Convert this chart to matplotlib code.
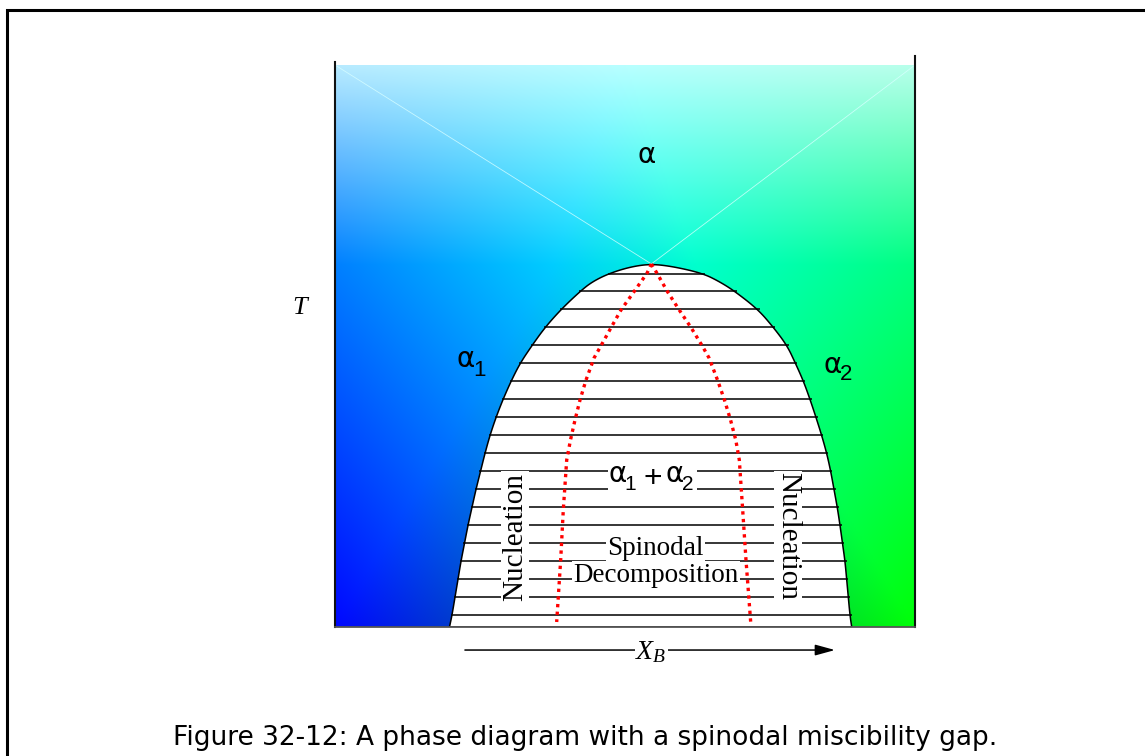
import numpy as np
import matplotlib
matplotlib.use("Agg")
import matplotlib.pyplot as plt
from matplotlib.patches import Polygon, Rectangle
from matplotlib.lines import Line2D
from matplotlib.transforms import offset_copy

plt.rcParams['mathtext.fontset'] = 'custom'
plt.rcParams['mathtext.rm'] = 'Liberation Serif'
plt.rcParams['mathtext.it'] = 'Liberation Serif:italic'

# ---- data (composition X_B in 0..1, temperature T in 0..1) ----
edge_T = [0.000, 0.021, 0.053, 0.085, 0.117, 0.149, 0.181, 0.213, 0.245, 0.277,
          0.309, 0.341, 0.373, 0.405, 0.437, 0.469, 0.501, 0.533, 0.565, 0.597,
          0.614, 0.629, 0.641, 0.646]
edge_left = [0.1974, 0.2017, 0.2069, 0.2121, 0.2172, 0.2233, 0.2293, 0.2362, 0.2431, 0.2509,
             0.2586, 0.2672, 0.2776, 0.2897, 0.3034, 0.3190, 0.3397, 0.3621, 0.3897, 0.4224,
             0.4431, 0.4724, 0.5100, 0.5455]
edge_right = [0.8909, 0.8879, 0.8850, 0.8822, 0.8793, 0.8750, 0.8707, 0.8660, 0.8603, 0.8547,
              0.8478, 0.8391, 0.8293, 0.8190, 0.8078, 0.7940, 0.7793, 0.7560, 0.7293, 0.6897,
              0.6638, 0.6345, 0.5850, 0.5455]

tie_T = [0.021, 0.053, 0.085, 0.117, 0.149, 0.181, 0.213, 0.245, 0.277, 0.309,
         0.341, 0.373, 0.405, 0.437, 0.469, 0.501, 0.533, 0.565, 0.597, 0.629]

spin_T = [0.6459, 0.6294, 0.5966, 0.5641, 0.5326, 0.5005, 0.4786, 0.4395, 0.4039,
          0.3683, 0.3327, 0.2972, 0.2082, 0.1192, 0.0089]
spin_left = [0.5455, 0.5379, 0.5155, 0.4931, 0.4759, 0.4586, 0.4466, 0.4328, 0.4224,
             0.4138, 0.4060, 0.3995, 0.3936, 0.3891, 0.3822]
spin_right = [0.5455, 0.5552, 0.5733, 0.5935, 0.6140, 0.6330, 0.6450, 0.6595, 0.6715,
              0.6820, 0.6910, 0.6971, 0.7029, 0.7086, 0.7167]

caption = "Figure 32-12: A phase diagram with a spinodal miscibility gap."

# ---- figure ----
W, H = 1145, 756
fig = plt.figure(figsize=(W / 100, H / 100), dpi=100)
fig.patch.set_facecolor('white')
ax = fig.add_axes([335 / W, (H - 627) / H, 580 / W, 562 / H])
ax.set_xlim(0, 1)
ax.set_ylim(0, 1)
ax.axis('off')
rend = fig.canvas.get_renderer()

# background gradient
nx, ny = 300, 300
U, V = np.meshgrid(np.linspace(0, 1, nx), np.linspace(0, 1, ny))
v0 = 0.644
f = np.interp(V, [0, v0, 1], [0.97, 0.5, 0.08])
L = np.interp(V, [0, v0, 1], [1.0, 0.62, 0.5])
R = 0.72 * np.clip((V - v0) / (1 - v0), 0, 1)
wl = np.clip(1 - U / L, 0, 1)
wr = np.clip(1 - (1 - U) / L, 0, 1)
G = 1 - wl * f
B = 1 - wr * f
img = np.dstack([R, G, B])
ax.imshow(img, origin='lower', extent=[0, 1, 0, 1], aspect='auto',
          interpolation='bilinear', zorder=0)

# faint diagonals from top corners to critical point
apx, apy = edge_left[-1], edge_T[-1]
ax.plot([0, apx, 1], [1, apy, 1], color='#d8ffff', lw=0.6, alpha=0.8, zorder=0.5)


def chaikin(pts, n=3):
    pts = np.asarray(pts, float)
    for _ in range(n):
        new = [pts[0]]
        for p, q in zip(pts[:-1], pts[1:]):
            new.append(0.75 * p + 0.25 * q)
            new.append(0.25 * p + 0.75 * q)
        new.append(pts[-1])
        pts = np.array(new)
    return pts


# miscibility gap
gx = list(edge_left) + list(edge_right[::-1])[1:]
gy = list(edge_T) + list(edge_T[::-1])[1:]
outline = chaikin(np.column_stack([gx, gy]), 3)
ax.add_patch(Polygon(outline, closed=True, facecolor='white',
                     edgecolor='none', zorder=1))
ax.hlines(tie_T, np.interp(tie_T, edge_T, edge_left) - 0.002,
          np.interp(tie_T, edge_T, edge_right) + 0.003,
          colors='black', lw=1.1, zorder=2)
ax.add_patch(Polygon(outline, closed=True, facecolor='none',
                     edgecolor='black', lw=1.1, zorder=3))

# spinodal
for xs in (spin_left, spin_right):
    ax.plot(xs, spin_T, color='red', lw=2.4, linestyle=(0, (1.0, 1.3)), zorder=6)

# axes lines
ax.plot([0, 0], [0, 1.0053], color='#111111', lw=1.5, clip_on=False, zorder=7)
ax.plot([1, 1], [0, 1.016], color='#111111', lw=1.5, clip_on=False, zorder=7)
ax.plot([0, 1], [0, 0], color='#555555', lw=1.3, clip_on=False, zorder=7)

# region labels
sans = 'DejaVu Sans'
subfont = 'Liberation Sans'
serif = 'Liberation Serif'


def alpha_sub(x, y, sub, fs=20, sfs=16, drop=8.5, z=5):
    t = ax.text(x, y, 'α', family=sans, fontsize=fs, ha='left', va='baseline', zorder=z)
    w = t.get_window_extent(rend).width
    tr = offset_copy(ax.transData, fig=fig, x=w - 2.0, y=-drop, units='dots')
    ax.text(x, y, sub, family=subfont, fontsize=sfs, ha='left', va='baseline',
            transform=tr, zorder=z)


ax.text(0.5371, 0.8256, 'α', family=sans, fontsize=20, ha='center', va='baseline')
alpha_sub(0.2095, 0.4621, '1')
alpha_sub(0.8422, 0.4520, '2', drop=7.5)

# alpha1 + alpha2 label on a white backing
ax.add_patch(Rectangle((0.4707, 0.2400), 0.1534, 0.0520, facecolor='white',
                       edgecolor='none', zorder=4))
alpha_sub(0.4716, 0.2585, '1', sfs=15, drop=8.3)
ax.text(0.5480, 0.2642, '+', family=subfont, fontsize=23, ha='center', va='center',
        zorder=5)
alpha_sub(0.5700, 0.2585, '2', sfs=15, drop=8.3)

box = dict(facecolor='white', edgecolor='none', pad=1.0)
ax.text(0.552, 0.139, 'Spinodal', family=serif, fontsize=19.5, ha='center',
        va='center', bbox=box, zorder=5)
ax.text(0.553, 0.0925, 'Decomposition', family=serif, fontsize=19.5, ha='center',
        va='center', bbox=box, zorder=5)
ax.text(0.3103, 0.1606, 'Nucleation', family=serif, fontsize=21, rotation=90,
        rotation_mode='anchor', ha='center', va='center', bbox=box, zorder=5)
ax.text(0.7810, 0.1619, 'Nucleation', family=serif, fontsize=21, rotation=-90,
        rotation_mode='anchor', ha='center', va='center', bbox=box, zorder=5)

# T label
ax.text(-0.0603, 0.5676, 'T', family=serif, style='italic', fontsize=19,
        ha='center', va='center', clip_on=False)

# X_B arrow
ax.annotate('', xy=(0.862, -0.041), xytext=(0.224, -0.041),
            arrowprops=dict(arrowstyle='-|>,head_length=0.8,head_width=0.22',
                            color='black', lw=1.1, mutation_scale=15,
                            shrinkA=0, shrinkB=0),
            annotation_clip=False, zorder=4)
ax.text(0.545, -0.043, r'$X_B$', fontsize=20, ha='center', va='center',
        bbox=dict(facecolor='white', edgecolor='none', pad=0.5), zorder=5,
        clip_on=False)

# outer frame (left and top edges visible)
ytop = 1 - 10 / H
xl = 7 / W
fig.add_artist(Line2D([xl, xl, 1.2], [-0.2, ytop, ytop], transform=fig.transFigure,
                      color='black', lw=2.2, solid_joinstyle='miter'))

cap = fig.text(585 / W, 1 - 738 / H, caption, family='DejaVu Sans', fontsize=16,
               ha='center', va='center')
wpx = cap.get_window_extent(rend).width
cap.set_fontsize(16 * 825 / wpx)

fig.savefig('out.png', dpi=100, facecolor='white')
